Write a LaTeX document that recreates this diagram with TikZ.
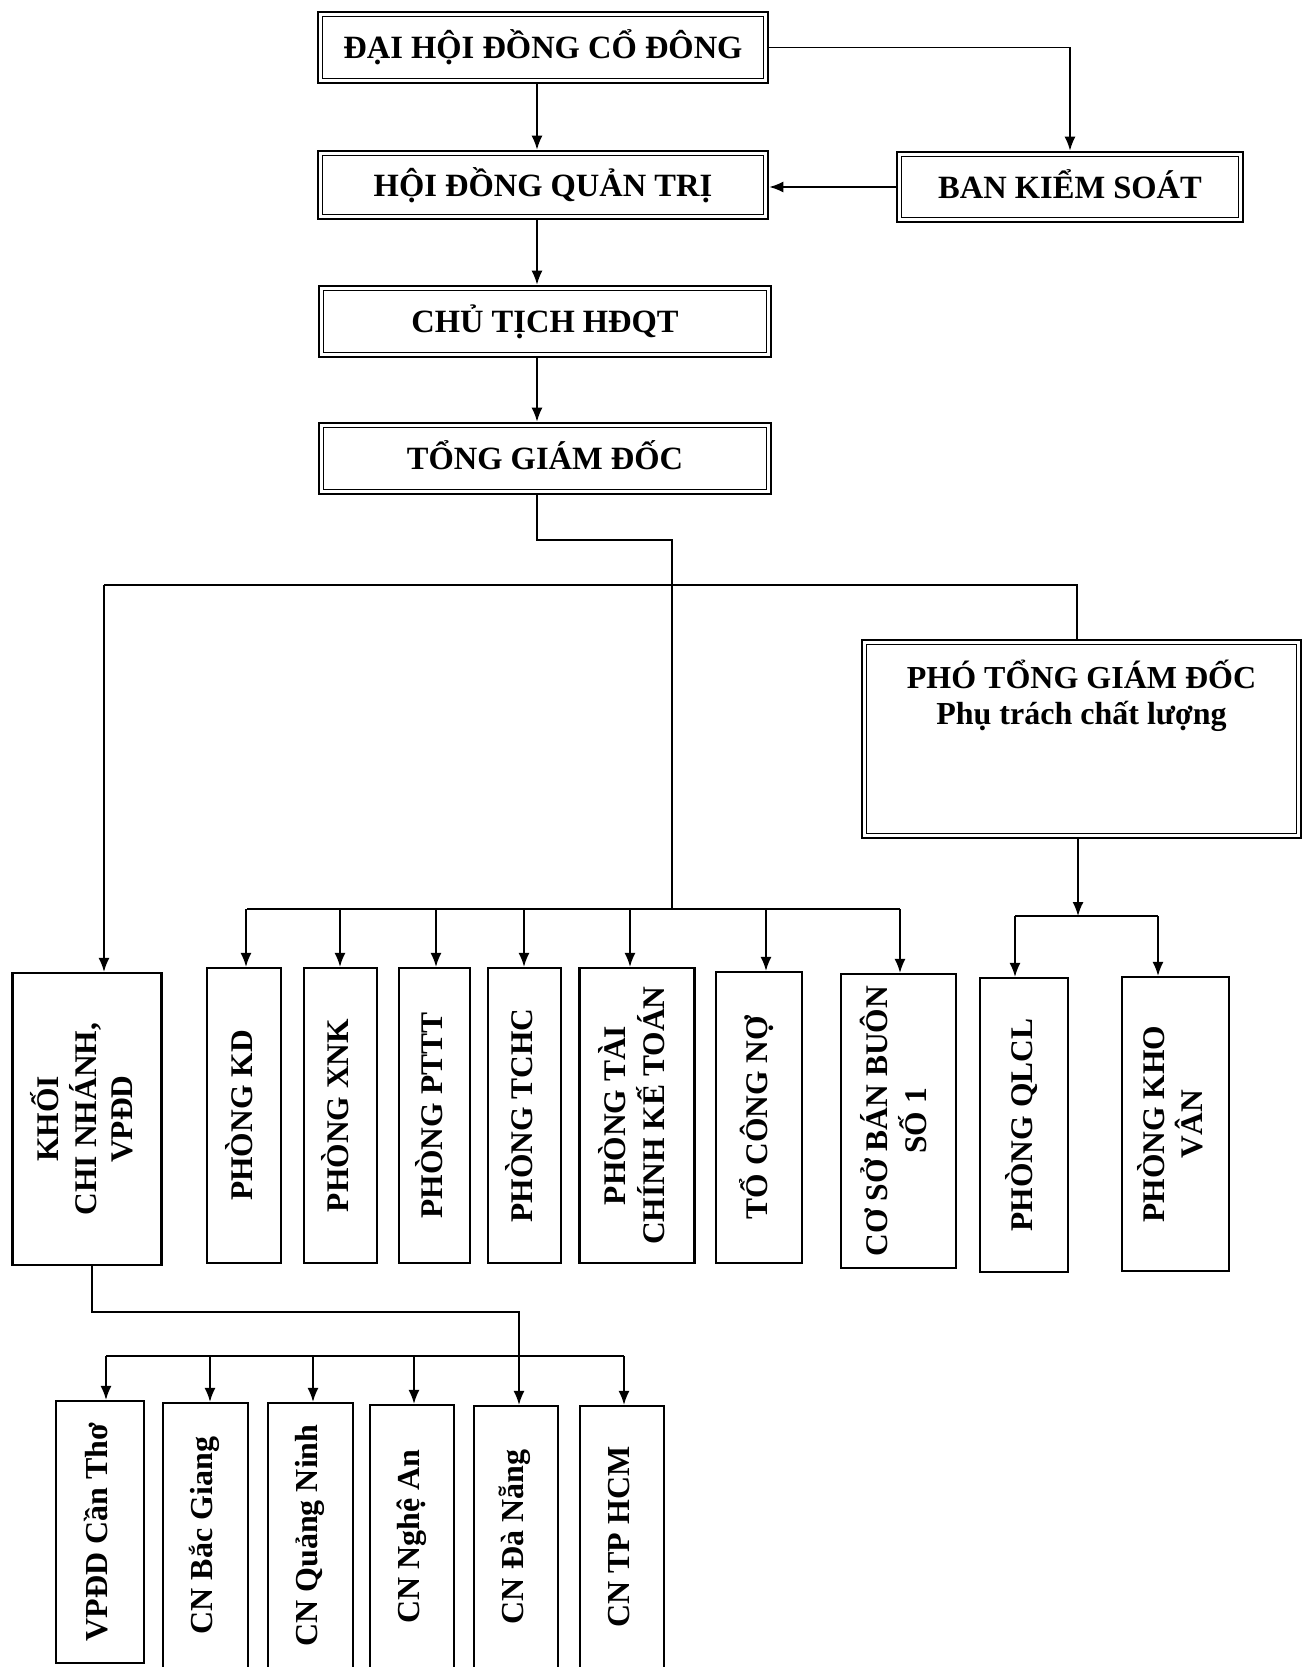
\documentclass[tikz,border=0pt]{standalone}
\usepackage{fontspec}
\setmainfont{Liberation Serif}
\usepackage{graphicx}
\usetikzlibrary{arrows.meta,calc}
\newcommand\vtxt[1]{\rotatebox{90}{\begin{tabular}{@{}c@{}}#1\end{tabular}}}
\tikzset{
  dbox/.style={draw, line width=2.6pt, fill=white, inner sep=0pt,
    text height=22pt, text depth=0pt,
    font=\fontsize{32.5}{36}\selectfont\bfseries,
    path picture={\draw[line width=1.6pt]
      ([xshift=4.5pt,yshift=-4.5pt]path picture bounding box.north west) rectangle
      ([xshift=-4.5pt,yshift=4.5pt]path picture bounding box.south east);}},
  vbox/.style={draw, line width=2.2pt, fill=white, inner sep=0pt,
    font=\fontsize{31.5}{36.5}\selectfont\bfseries},
  bbox/.style={vbox, font=\fontsize{32}{36}\selectfont\bfseries},
  conn/.style={line width=1.7pt},
  arr/.style={conn, -{Latex[length=14pt,width=11pt]}},
}
\begin{document}
\begin{tikzpicture}[x=1pt,y=-1pt]
\path[use as bounding box, fill=white] (0,0) rectangle (1312,1667);

% top chain
\node[dbox, minimum width=450pt, minimum height=71pt] (dh) at (543,47.5) {ĐẠI HỘI ĐỒNG CỔ ĐÔNG};
\node[dbox, minimum width=450pt, minimum height=68pt] (hd) at (543,185) {HỘI ĐỒNG QUẢN TRỊ};
\node[dbox, minimum width=346pt, minimum height=70pt] (bks) at (1070,187) {BAN KIỂM SOÁT};
\node[dbox, minimum width=452pt, minimum height=71pt] (ct) at (545,321.5) {CHỦ TỊCH HĐQT};
\node[dbox, minimum width=452pt, minimum height=71pt] (tgd) at (545,458.5) {TỔNG GIÁM ĐỐC};
\node[dbox, minimum width=439pt, minimum height=198pt] (ptgd) at (1081.5,739) {};
\node[font=\fontsize{32}{36}\selectfont\bfseries, align=center] (ptgdt) at (1081.5,696) {PHÓ TỔNG GIÁM ĐỐC\\Phụ trách chất lượng};

% departments
\node[vbox, minimum width=149pt, minimum height=292pt] (khoi) at (87,1119) {\vtxt{KHỐI\\CHI NHÁNH,\\VPĐD}};
\node[vbox, minimum width=74pt, minimum height=295pt] (kd) at (244,1115.5) {\vtxt{PHÒNG KD}};
\node[vbox, minimum width=73pt, minimum height=295pt] (xnk) at (340.5,1115.5) {\vtxt{PHÒNG XNK}};
\node[vbox, minimum width=71pt, minimum height=295pt] (pttt) at (434.5,1115.5) {\vtxt{PHÒNG PTTT}};
\node[vbox, minimum width=73pt, minimum height=295pt] (tchc) at (524.5,1115.5) {\vtxt{PHÒNG TCHC}};
\node[vbox, minimum width=115pt, minimum height=295pt] (tckt) at (637,1115.5) {\vtxt{PHÒNG TÀI\\CHÍNH KẾ TOÁN}};
\node[vbox, minimum width=86pt, minimum height=291pt] (tcn) at (759,1117.5) {\vtxt{TỔ CÔNG NỢ}};
\node[vbox, minimum width=115pt, minimum height=294pt] (coso) at (898.5,1121) {\vtxt{CƠ SỞ BÁN BUÔN\\SỐ 1}};
\node[vbox, minimum width=88pt, minimum height=294pt] (qlcl) at (1024,1125) {\vtxt{PHÒNG QLCL}};
\node[vbox, minimum width=107pt, minimum height=294pt] (kho) at (1175.5,1124) {\vtxt{PHÒNG KHO\\VÂN}};

% branches
\node[bbox, minimum width=88pt, minimum height=262pt] (vpdd) at (100,1532) {\vtxt{VPĐD Cần Thơ}};
\node[bbox, minimum width=85pt, minimum height=265pt] (bg) at (205.5,1535.5) {\vtxt{CN Bắc Giang}};
\node[bbox, minimum width=85pt, minimum height=265pt] (qn) at (310.5,1535.5) {\vtxt{CN Quảng Ninh}};
\node[bbox, minimum width=84pt, minimum height=263pt] (na) at (412,1536.5) {\vtxt{CN Nghệ An}};
\node[bbox, minimum width=84pt, minimum height=262pt] (dn) at (516,1537) {\vtxt{CN Đà Nẵng}};
\node[bbox, minimum width=84pt, minimum height=262pt] (hcm) at (622,1537) {\vtxt{CN TP HCM}};

% top connectors
\coordinate (xm) at (537,0);
\draw[arr] (dh.south -| xm) -- (hd.north -| xm);
\draw[arr] (dh.east) -| (bks.north);
\draw[arr] (bks.west) -- (bks.west -| hd.east);
\draw[arr] (hd.south -| xm) -- (ct.north -| xm);
\draw[arr] (ct.south -| xm) -- (tgd.north -| xm);

\coordinate (j2) at (672,540);
\coordinate (j3) at (672,909);
\draw[conn] (tgd.south -| xm) |- (j2) -- (j3);

\coordinate (kl) at (104,585);
\coordinate (pl) at (1077,585);
\draw[conn] (kl) -- (pl) -- (pl |- ptgd.north);
\draw[arr] (kl) -- (kl |- khoi.north);

% department bus
\draw[conn] (247,909) -- (900,909);
\foreach \x/\n in {246/kd, 340/xnk, 436/pttt, 524/tchc, 630/tckt, 766/tcn, 900/coso}{
  \coordinate (t) at (\x,909);
  \draw[arr] (t) -- (t |- \n.north);
}

% PTGD bus
\coordinate (p2) at (1078,916);
\draw[arr] (ptgd.south -| p2) -- (p2);
\draw[conn] (1015,916) -- (1158,916);
\foreach \x/\n in {1015/qlcl, 1158/kho}{
  \coordinate (t) at (\x,916);
  \draw[arr] (t) -- (t |- \n.north);
}

% KHOI to branches
\coordinate (k1) at (92,1312);
\coordinate (k2) at (519,1312);
\draw[arr] (khoi.south -| k1) -- (k1) -- (k2) -- (k2 |- dn.north);
\draw[conn] (106,1356) -- (624,1356);
\foreach \x/\n in {106/vpdd, 210/bg, 313/qn, 414/na, 624/hcm}{
  \coordinate (t) at (\x,1356);
  \draw[arr] (t) -- (t |- \n.north);
}
\end{tikzpicture}
\end{document}
